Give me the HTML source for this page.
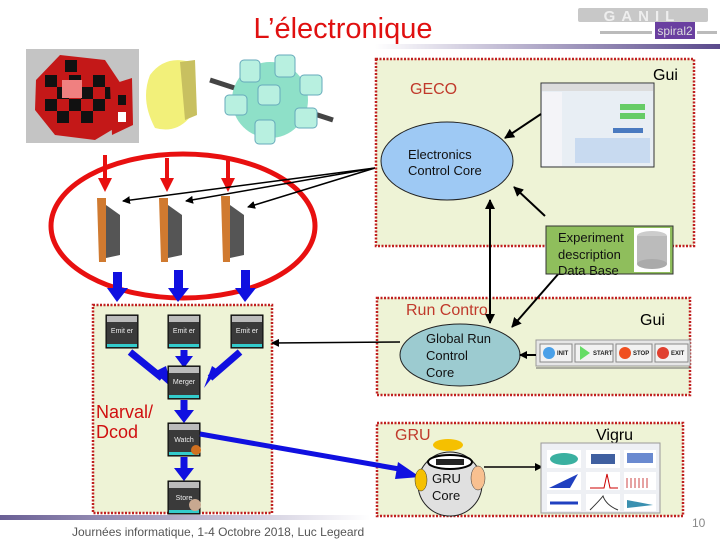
<!DOCTYPE html>
<html><head><meta charset="utf-8"><style>
html,body{margin:0;padding:0;background:#fff;width:720px;height:540px;overflow:hidden}
svg{display:block;font-family:"Liberation Sans",sans-serif}
</style></head><body>
<svg width="720" height="540" viewBox="0 0 720 540" xmlns="http://www.w3.org/2000/svg">
<defs>
<linearGradient id="gt" x1="0" x2="1"><stop offset="0" stop-color="#fff"/><stop offset="1" stop-color="#5a4a8c"/></linearGradient>
<linearGradient id="gb" x1="0" x2="1"><stop offset="0" stop-color="#6a5f95"/><stop offset="1" stop-color="#fff"/></linearGradient>
<marker id="ab" markerWidth="8" markerHeight="8" refX="7" refY="4" orient="auto" markerUnits="userSpaceOnUse"><path d="M0,0 L8,4 L0,8z" fill="#000"/></marker>
<marker id="ab2" markerWidth="10" markerHeight="10" refX="9" refY="5" orient="auto" markerUnits="userSpaceOnUse"><path d="M0,0 L10,5 L0,10z" fill="#000"/></marker>
</defs>
<text x="343" y="38" font-size="29" fill="#e01010" text-anchor="middle">L’électronique</text>
<rect x="375" y="44" width="345" height="5" fill="url(#gt)"/>
<rect x="0" y="515" width="370" height="5" fill="url(#gb)"/>
<g>
<rect x="578" y="8" width="130" height="14" fill="#c8c8c8" rx="2"/>
<text x="642" y="21" font-size="15" fill="#eee" text-anchor="middle" font-weight="bold" letter-spacing="6">GANIL</text>
<rect x="655" y="22" width="40" height="17" fill="#6a3fa0"/>
<text x="675" y="35" font-size="12" fill="#ddd" text-anchor="middle">spiral2</text>
<rect x="600" y="31" width="52" height="3" fill="#bbb"/>
<rect x="697" y="31" width="20" height="3" fill="#bbb"/>
</g>
<rect x="26" y="49" width="113" height="94" fill="#c4c4c4"/>
<polygon points="36,80 60,55 105,60 125,90 120,125 95,140 55,135 35,110" fill="#c41818"/>
<g fill="#111">
<rect x="45" y="75" width="12" height="12"/><rect x="69" y="75" width="12" height="12"/><rect x="93" y="75" width="12" height="12"/>
<rect x="57" y="87" width="12" height="12"/><rect x="81" y="87" width="12" height="12"/><rect x="105" y="87" width="12" height="12"/>
<rect x="45" y="99" width="12" height="12"/><rect x="69" y="99" width="12" height="12"/><rect x="93" y="99" width="12" height="12"/>
<rect x="57" y="111" width="12" height="12"/><rect x="81" y="111" width="12" height="12"/>
<rect x="65" y="60" width="12" height="12"/></g>
<rect x="62" y="80" width="20" height="18" fill="#f08080"/>
<polygon points="110,85 132,78 133,125 112,135" fill="#c41818"/>
<rect x="118" y="95" width="8" height="10" fill="#111"/><rect x="118" y="112" width="8" height="10" fill="#fff"/>
<path d="M150,75 Q165,55 190,62 L195,110 Q180,135 155,128 Q140,100 150,75z" fill="#f2f07a"/>
<path d="M180,62 L195,60 L197,115 L185,120z" fill="#c8c060"/>
<line x1="210" y1="80" x2="333" y2="120" stroke="#444" stroke-width="5"/>
<circle cx="270" cy="100" r="38" fill="#8ee0c8"/>
<g fill="#b8f0e0" stroke="#6ab" stroke-width="1">
<rect x="240" y="60" width="20" height="22" rx="4"/><rect x="275" y="55" width="20" height="22" rx="4"/><rect x="300" y="75" width="22" height="20" rx="4"/>
<rect x="225" y="95" width="22" height="20" rx="4"/><rect x="295" y="108" width="22" height="20" rx="4"/><rect x="255" y="120" width="20" height="24" rx="4"/>
<rect x="258" y="85" width="22" height="20" rx="4"/></g>
<ellipse cx="183" cy="226" rx="132" ry="72" fill="none" stroke="#e81010" stroke-width="5"/>
<g stroke="#e81010" stroke-width="4" fill="#e81010">
<line x1="105" y1="155" x2="105" y2="180"/><line x1="167" y1="158" x2="167" y2="180"/><line x1="228" y1="158" x2="228" y2="180"/></g>
<g fill="#e81010"><path d="M98,178 L112,178 L105,192z"/><path d="M160,178 L174,178 L167,192z"/><path d="M221,178 L235,178 L228,192z"/></g>
<g>
<polygon points="97,198 106,198 106,262 99,262" fill="#d07a30"/><polygon points="106,205 120,215 120,255 106,258" fill="#555"/>
<polygon points="159,198 168,198 168,262 161,262" fill="#d07a30"/><polygon points="168,205 182,215 182,255 168,258" fill="#555"/>
<polygon points="221,196 230,196 230,262 223,262" fill="#d07a30"/><polygon points="230,205 244,215 244,255 230,258" fill="#555"/>
</g>
<g stroke="#000" stroke-width="1.5" fill="none">
<line x1="375" y1="168" x2="123" y2="201" marker-end="url(#ab)"/>
<line x1="375" y1="168" x2="186" y2="201" marker-end="url(#ab)"/>
<line x1="375" y1="168" x2="248" y2="207" marker-end="url(#ab)"/></g>
<g fill="#1010e0">
<rect x="113" y="272" width="9" height="18"/><path d="M107,288 L128,288 L117,302z"/>
<rect x="174" y="270" width="9" height="20"/><path d="M168,288 L189,288 L178,302z"/>
<rect x="241" y="270" width="9" height="20"/><path d="M235,288 L256,288 L245,302z"/>
</g>
<rect x="93" y="305" width="179" height="208" fill="#eef3d6" stroke="#c02020" stroke-width="2.5" stroke-dasharray="2,1.5"/>
<text x="96" y="418" font-size="18" fill="#d01010">Narval/</text>
<text x="96" y="438" font-size="18" fill="#d01010">Dcod</text>
<g stroke="#1010e0" stroke-width="7" fill="none">
<line x1="130" y1="352" x2="162" y2="378"/><line x1="184" y1="350" x2="184" y2="358"/><line x1="240" y1="352" x2="210" y2="378"/>
<line x1="184" y1="400" x2="184" y2="412"/><line x1="184" y1="457" x2="184" y2="470"/>
</g>
<g fill="#1010e0">
<path d="M154,372 L172,388 L166,366z"/><path d="M175,356 L193,356 L184,368z"/><path d="M218,370 L204,388 L212,366z"/>
<path d="M174,410 L194,410 L184,423z"/><path d="M174,468 L194,468 L184,481z"/>
</g>
<g font-size="7" text-anchor="middle">
<g><rect x="106" y="315" width="32" height="33" fill="#3a3a3a" stroke="#000"/><rect x="107" y="316" width="30" height="6" fill="#bbb"/><rect x="107" y="344" width="30" height="3" fill="#3cc"/><text x="122" y="333" fill="#eee">Emit er</text></g>
<g><rect x="168" y="315" width="32" height="33" fill="#3a3a3a" stroke="#000"/><rect x="169" y="316" width="30" height="6" fill="#bbb"/><rect x="169" y="344" width="30" height="3" fill="#3cc"/><text x="184" y="333" fill="#eee">Emit er</text></g>
<g><rect x="231" y="315" width="32" height="33" fill="#3a3a3a" stroke="#000"/><rect x="232" y="316" width="30" height="6" fill="#bbb"/><rect x="232" y="344" width="30" height="3" fill="#3cc"/><text x="247" y="333" fill="#eee">Emit er</text></g>
<g><rect x="168" y="366" width="32" height="33" fill="#3a3a3a" stroke="#000"/><rect x="169" y="367" width="30" height="6" fill="#bbb"/><rect x="169" y="395" width="30" height="3" fill="#3cc"/><text x="184" y="384" fill="#eee">Merger</text></g>
<g><rect x="168" y="423" width="32" height="33" fill="#3a3a3a" stroke="#000"/><rect x="169" y="424" width="30" height="6" fill="#bbb"/><rect x="169" y="452" width="30" height="3" fill="#3cc"/><text x="184" y="442" fill="#eee">Watch</text><circle cx="196" cy="450" r="5" fill="#d07020"/></g>
<g><rect x="168" y="481" width="32" height="33" fill="#3a3a3a" stroke="#000"/><rect x="169" y="482" width="30" height="6" fill="#bbb"/><rect x="169" y="510" width="30" height="3" fill="#3cc"/><text x="184" y="500" fill="#eee">Store</text><circle cx="195" cy="505" r="6" fill="#c8a890"/></g>
</g>
<!-- GECO box -->
<rect x="376" y="59" width="318" height="187" fill="#eef3d6" stroke="#c02020" stroke-width="2.5" stroke-dasharray="2,1.5"/>
<text x="410" y="94" font-size="16" fill="#c0392b">GECO</text>
<text x="653" y="80" font-size="16" fill="#000">Gui</text>
<rect x="541" y="83" width="113" height="84" fill="#e8eef4" stroke="#333"/>
<rect x="542" y="84" width="111" height="7" fill="#dcdcdc"/>
<rect x="542" y="92" width="20" height="74" fill="#f4f4f8"/>
<rect x="620" y="104" width="25" height="6" fill="#6c6"/><rect x="620" y="113" width="25" height="6" fill="#6c6"/>
<rect x="613" y="128" width="30" height="5" fill="#4a7ac0"/>
<rect x="575" y="138" width="75" height="25" fill="#c8daf0"/>
<ellipse cx="447" cy="161" rx="66" ry="39" fill="#9ec9f4" stroke="#222" stroke-width="1"/>
<text x="408" y="159" font-size="13" fill="#111">Electronics</text>
<text x="408" y="175" font-size="13" fill="#111">Control Core</text>
<!-- Run Control -->
<rect x="377" y="298" width="313" height="97" fill="#eef3d6" stroke="#c02020" stroke-width="2.5" stroke-dasharray="2,1.5"/>
<text x="406" y="315" font-size="16" fill="#c0392b">Run Control</text>
<text x="640" y="325" font-size="16" fill="#000">Gui</text>
<ellipse cx="460" cy="355" rx="60" ry="31" fill="#9ccbd0" stroke="#222" stroke-width="1"/>
<text x="426" y="343" font-size="13" fill="#111">Global Run</text>
<text x="426" y="360" font-size="13" fill="#111">Control</text>
<text x="426" y="377" font-size="13" fill="#111">Core</text>
<rect x="536" y="340" width="154" height="26" fill="#e6e6e6" stroke="#999"/>
<line x1="536" y1="368" x2="690" y2="368" stroke="#666"/>
<g font-size="6" font-weight="bold" fill="#222">
<rect x="540" y="344" width="32" height="18" fill="#f2f2f2" stroke="#888"/><circle cx="549" cy="353" r="6" fill="#4aa0e8"/><text x="557" y="355">INIT</text>
<rect x="575" y="344" width="38" height="18" fill="#f2f2f2" stroke="#888"/><path d="M580,346 L590,353 L580,360z" fill="#6d6"/><text x="593" y="355">START</text>
<rect x="616" y="344" width="36" height="18" fill="#f2f2f2" stroke="#888"/><circle cx="625" cy="353" r="6" fill="#f05020"/><text x="633" y="355">STOP</text>
<rect x="655" y="344" width="33" height="18" fill="#f2f2f2" stroke="#888"/><circle cx="663" cy="353" r="6" fill="#e04030"/><text x="671" y="355">EXIT</text>
</g>
<line x1="536" y1="355" x2="520" y2="355" stroke="#000" stroke-width="2" marker-end="url(#ab)"/>
<line x1="400" y1="342" x2="272" y2="343" stroke="#000" stroke-width="1.5" marker-end="url(#ab)"/>
<!-- arrows between GECO and Run Control (drawn on top) -->
<g stroke="#000" stroke-width="2" fill="none">
<line x1="541" y1="114" x2="505" y2="138" marker-end="url(#ab2)"/>
<line x1="545" y1="216" x2="514" y2="187" marker-end="url(#ab2)"/>
<line x1="490" y1="322" x2="490" y2="200" marker-end="url(#ab2)"/>
<line x1="490" y1="200" x2="490" y2="323" marker-end="url(#ab2)"/>
<line x1="560" y1="272" x2="512" y2="327" marker-end="url(#ab2)"/>
</g>
<rect x="546" y="226" width="127" height="48" fill="#8fbe5c" stroke="#333"/>
<text x="558" y="242" font-size="13" fill="#111">Experiment</text>
<text x="558" y="259" font-size="13" fill="#111">description</text>
<text x="558" y="275" font-size="13" fill="#111">Data Base</text>
<rect x="634" y="228" width="36" height="44" fill="#fff"/>
<ellipse cx="652" cy="236" rx="15" ry="5" fill="#ccc"/><rect x="637" y="236" width="30" height="28" fill="#bbb"/><ellipse cx="652" cy="264" rx="15" ry="5" fill="#aaa"/>
<!-- GRU -->
<rect x="377" y="423" width="306" height="93" fill="#eef3d6" stroke="#c02020" stroke-width="2.5" stroke-dasharray="2,1.5"/>
<text x="395" y="440" font-size="16" fill="#c0392b">GRU</text>
<text x="596" y="440" font-size="16" fill="#000">Vigru</text>
<line x1="200" y1="434" x2="405" y2="470" stroke="#1010e0" stroke-width="5"/>
<path d="M398,462 L420,477 L395,479z" fill="#1010e0"/>
<circle cx="450" cy="484" r="32" fill="#e0e0e0" stroke="#222"/>
<ellipse cx="448" cy="445" rx="15" ry="6" fill="#f5c000"/>
<ellipse cx="450" cy="462" rx="22" ry="7" fill="#fff" stroke="#000" stroke-width="2"/>
<rect x="436" y="459" width="28" height="6" fill="#222"/>
<ellipse cx="421" cy="480" rx="6" ry="11" fill="#f5c000" stroke="#333" stroke-width="0.5"/>
<ellipse cx="478" cy="478" rx="7" ry="12" fill="#f8c090" stroke="#333" stroke-width="0.5"/>
<text x="432" y="483" font-size="13" fill="#111">GRU</text>
<text x="432" y="500" font-size="13" fill="#111">Core</text>
<line x1="484" y1="467" x2="542" y2="467" stroke="#000" stroke-width="1.5" marker-end="url(#ab)"/>
<rect x="541" y="443" width="119" height="70" fill="#eef0f4" stroke="#999"/>
<g><rect x="547" y="450" width="34" height="18" fill="#fff"/><ellipse cx="564" cy="459" rx="14" ry="6" fill="#3ab0a0"/>
<rect x="586" y="450" width="34" height="18" fill="#fff"/><rect x="591" y="454" width="24" height="10" fill="#4060a0"/>
<rect x="624" y="450" width="32" height="18" fill="#fff"/><rect x="627" y="453" width="26" height="10" fill="#6a8ad0"/>
<rect x="547" y="472" width="34" height="18" fill="#fff"/><path d="M549,488 L578,474 L570,488z" fill="#2040c0"/>
<rect x="586" y="472" width="34" height="18" fill="#fff"/><path d="M590,488 L604,488 L607,474 L610,488 L618,488" stroke="#c00" fill="none"/>
<rect x="624" y="472" width="32" height="18" fill="#fff"/><path d="M627,488 v-10 M631,488 v-10 M635,488 v-10 M639,488 v-10 M643,488 v-10 M647,488 v-10" stroke="#c44"/>
<rect x="547" y="494" width="34" height="17" fill="#fff"/><path d="M550,503 L578,503" stroke="#2040c0" stroke-width="3"/>
<rect x="586" y="494" width="34" height="17" fill="#fff"/><path d="M590,510 Q600,500 603,496 Q606,505 618,510" stroke="#333" fill="none"/>
<rect x="624" y="494" width="32" height="17" fill="#fff"/><path d="M627,500 L653,505 L627,508z" fill="#3a90b0"/></g>
<text x="72" y="536" font-size="12" fill="#555">Journées informatique, 1-4 Octobre 2018, Luc Legeard</text>
<text x="692" y="527" font-size="12" fill="#888">10</text>
</svg>
</body></html>
